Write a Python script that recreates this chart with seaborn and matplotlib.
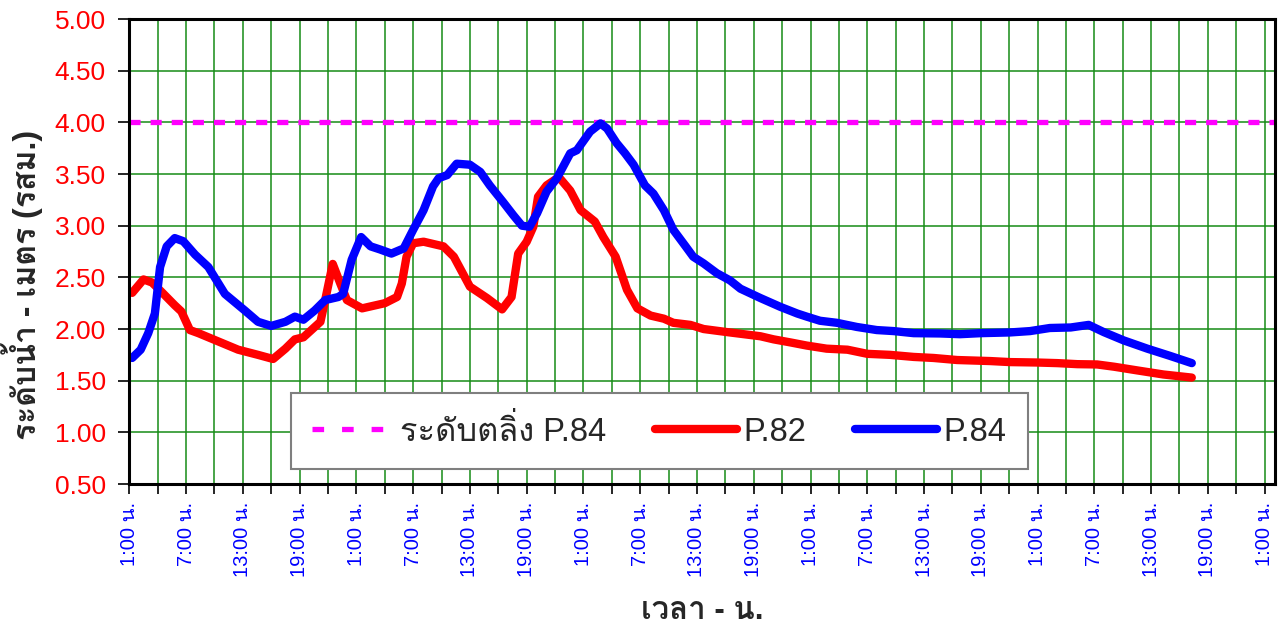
import numpy as np
import pandas as pd
import matplotlib
matplotlib.use("Agg")
import matplotlib.pyplot as plt
import seaborn as sns
from matplotlib import font_manager
from matplotlib.ft2font import FT2Font
from matplotlib.ticker import MultipleLocator, FixedLocator, FormatStrFormatter

# ---------------- data ----------------
p84_hours = [0.3, 1.2, 2.0, 2.7, 3.25, 3.95, 4.8, 5.7, 6.95, 8.35, 10.1, 12.2, 13.6, 15.0, 16.5,
             17.5, 18.4, 19.6, 20.7, 22.1, 22.6, 23.5, 24.5, 25.5, 26.5, 27.7, 29.0, 30.0, 31.1,
             32.1, 32.7, 33.6, 34.6, 36.0, 37.1, 38.1, 39.5, 40.6, 41.5, 42.3, 43.1, 44.1, 45.2,
             46.6, 47.3, 48.7, 49.8, 50.5, 51.5, 52.4, 53.3, 54.5, 55.4, 56.5, 57.5, 58.8, 59.6,
             60.7, 62.1, 63.5, 64.6, 66.7, 68.8, 70.6, 71.6, 73.0, 74.8, 76.9, 79.0, 80.8, 82.9,
             85.7, 87.8, 90.0, 93.1, 95.2, 97.3, 99.5, 101.4, 103.0, 105.1, 107.6, 110.0, 112.3]
p84_level = [1.72, 1.80, 1.96, 2.15, 2.60, 2.80, 2.88, 2.85, 2.72, 2.60, 2.34, 2.18, 2.07, 2.03, 2.07,
             2.12, 2.09, 2.18, 2.28, 2.31, 2.34, 2.67, 2.89, 2.80, 2.77, 2.73, 2.78, 2.96, 3.15,
             3.38, 3.46, 3.49, 3.60, 3.59, 3.52, 3.39, 3.23, 3.10, 3.00, 2.99, 3.12, 3.33, 3.46,
             3.70, 3.73, 3.91, 3.99, 3.94, 3.80, 3.70, 3.59, 3.39, 3.31, 3.15, 2.96, 2.80, 2.70,
             2.635, 2.54, 2.47, 2.39, 2.30, 2.215, 2.15, 2.12, 2.08, 2.06, 2.02, 1.99, 1.98, 1.96,
             1.957, 1.95, 1.96, 1.967, 1.98, 2.01, 2.015, 2.04, 1.97, 1.89, 1.81, 1.74, 1.67]

p82_hours = [0.3, 1.5, 2.4, 3.4, 4.8, 5.5, 6.4, 7.3, 9.4, 11.5, 13.6, 15.2, 16.5, 17.5, 18.4, 20.2,
             20.7, 21.5, 22.3, 23.0, 24.6, 27.0, 28.3, 28.8, 29.3, 30.0, 31.1, 33.2, 34.3, 36.0,
             37.8, 39.4, 40.4, 41.1, 42.0, 42.7, 43.2, 44.1, 45.4, 46.6, 47.7, 49.2, 50.1, 51.4,
             52.6, 53.7, 55.1, 56.5, 57.5, 59.3, 60.7, 63.2, 66.7, 68.1, 69.9, 71.6, 73.7, 75.9,
             78.0, 80.4, 82.9, 85.0, 87.5, 91.0, 93.1, 95.9, 98.1, 100.2, 102.3, 104.1, 106.5,
             109.3, 112.3]
p82_level = [2.35, 2.48, 2.45, 2.36, 2.23, 2.17, 1.99, 1.96, 1.88, 1.80, 1.75, 1.71, 1.81, 1.90, 1.92, 2.07,
             2.28, 2.63, 2.44, 2.28, 2.20, 2.25, 2.31, 2.44, 2.70, 2.83, 2.845, 2.80, 2.70, 2.41,
             2.30, 2.19, 2.31, 2.73, 2.845, 2.99, 3.28, 3.39, 3.47, 3.34, 3.15, 3.04, 2.89, 2.70,
             2.38, 2.20, 2.13, 2.10, 2.06, 2.04, 2.00, 1.97, 1.93, 1.90, 1.87, 1.84, 1.81, 1.80,
             1.76, 1.75, 1.73, 1.72, 1.70, 1.69, 1.68, 1.676, 1.67, 1.66, 1.657, 1.635, 1.60,
             1.56, 1.53]

bank_level = 4.00
series_names = ["ระดับตลิ่ง P.84", "P.82", "P.84"]
tick_hours = list(range(0, 121, 6))
tick_labels = ["1:00 น.", "7:00 น.", "13:00 น.", "19:00 น."] * 5 + ["1:00 น."]
y_label = "ระดับน้ำ - เมตร (รสม.)"
x_label = "เวลา - น."

# ---------------- fonts ----------------
sns.set_theme(style="white")
looped_like = ("Looped", "Loma", "Waree", "Garuda", "Tahoma", "Leelawadee")
thai_candidates = []
for i, f in enumerate(font_manager.fontManager.ttflist):
    try:
        if ord("ร") in FT2Font(f.fname).get_charmap():
            if any(k in f.name for k in looped_like):
                score = 0
            elif "Serif" in f.name:
                score = 10
            else:
                score = 5
            if f.style != "normal":
                score += 20
            thai_candidates.append((score, i, f.name))
    except Exception:
        pass
thai_candidates.sort()
families = ["Liberation Sans"]
if thai_candidates:
    families.append(thai_candidates[0][2])
families.append("DejaVu Sans")
plt.rcParams["font.family"] = families

# ---------------- plot ----------------
fig = plt.figure(figsize=(12.83, 6.26), dpi=100)
ax = fig.add_axes([0.1008, 0.2268, 0.8930, 0.7428])

x_min, x_max = 0, 121.1
bank_df = pd.DataFrame({"h": [x_min, x_max], "v": [bank_level, bank_level]})
sns.lineplot(data=bank_df, x="h", y="v", ax=ax, color="#FF00FF", linewidth=3.8,
             dashes=False, label=series_names[0])
ax.lines[-1].set_dashes((2.1, 1.9))
ax.lines[-1].set_dash_capstyle("butt")

df82 = pd.DataFrame({"h": p82_hours, "v": p82_level})
df84 = pd.DataFrame({"h": p84_hours, "v": p84_level})
sns.lineplot(data=df82, x="h", y="v", ax=ax, color="#FF0000", linewidth=6,
             sort=False, estimator=None, label=series_names[1],
             solid_capstyle="round", solid_joinstyle="round")
sns.lineplot(data=df84, x="h", y="v", ax=ax, color="#0000FF", linewidth=6,
             sort=False, estimator=None, label=series_names[2],
             solid_capstyle="round", solid_joinstyle="round")

ax.set_xlim(x_min, x_max)
ax.set_ylim(0.5, 5.0)

ax.xaxis.set_major_locator(FixedLocator(tick_hours))
ax.set_xticklabels(tick_labels, rotation=90, color="#0000FF", fontsize=14.5)
ax.xaxis.set_minor_locator(MultipleLocator(3))
ax.yaxis.set_major_locator(MultipleLocator(0.5))
ax.yaxis.set_major_formatter(FormatStrFormatter("%.2f"))
ax.tick_params(axis="y", labelsize=19, colors="black", labelcolor="#FF0000",
               direction="out", length=8, width=1.2, left=True, pad=9)
ax.tick_params(axis="x", which="both", direction="out", length=7, width=1.2,
               bottom=True, colors="black", pad=6)
ax.tick_params(axis="x", labelcolor="#0000FF")

ax.grid(True, which="major", axis="y", color="#168c16", linewidth=1.1)
ax.grid(True, which="both", axis="x", color="#168c16", linewidth=1.1)
ax.set_axisbelow(True)

for s in ax.spines.values():
    s.set_visible(True)
    s.set_color("black")
    s.set_linewidth(2.2)

ax.set_xlabel(x_label, fontsize=22.5, fontweight="bold")
ax.xaxis.set_label_coords(0.5, -0.240)
ax.set_ylabel(y_label, fontsize=23, fontweight="bold")
ax.yaxis.set_label_coords(-0.075, 0.428)

leg = ax.legend(loc="center", bbox_to_anchor=(0.4625, 0.114), ncol=3, fontsize=23.5,
                frameon=True, fancybox=False, framealpha=1, edgecolor="#7f7f7f",
                handlelength=2.5, handletextpad=0.2, columnspacing=1.5,
                borderpad=0.65, borderaxespad=0)
leg.get_frame().set_linewidth(1.5)
leg_lines = leg.get_lines()
leg_lines[0].set_dashes((2.2, 3.4))
leg_lines[0].set_dash_capstyle("butt")

fig.savefig("out.png", dpi=100)
